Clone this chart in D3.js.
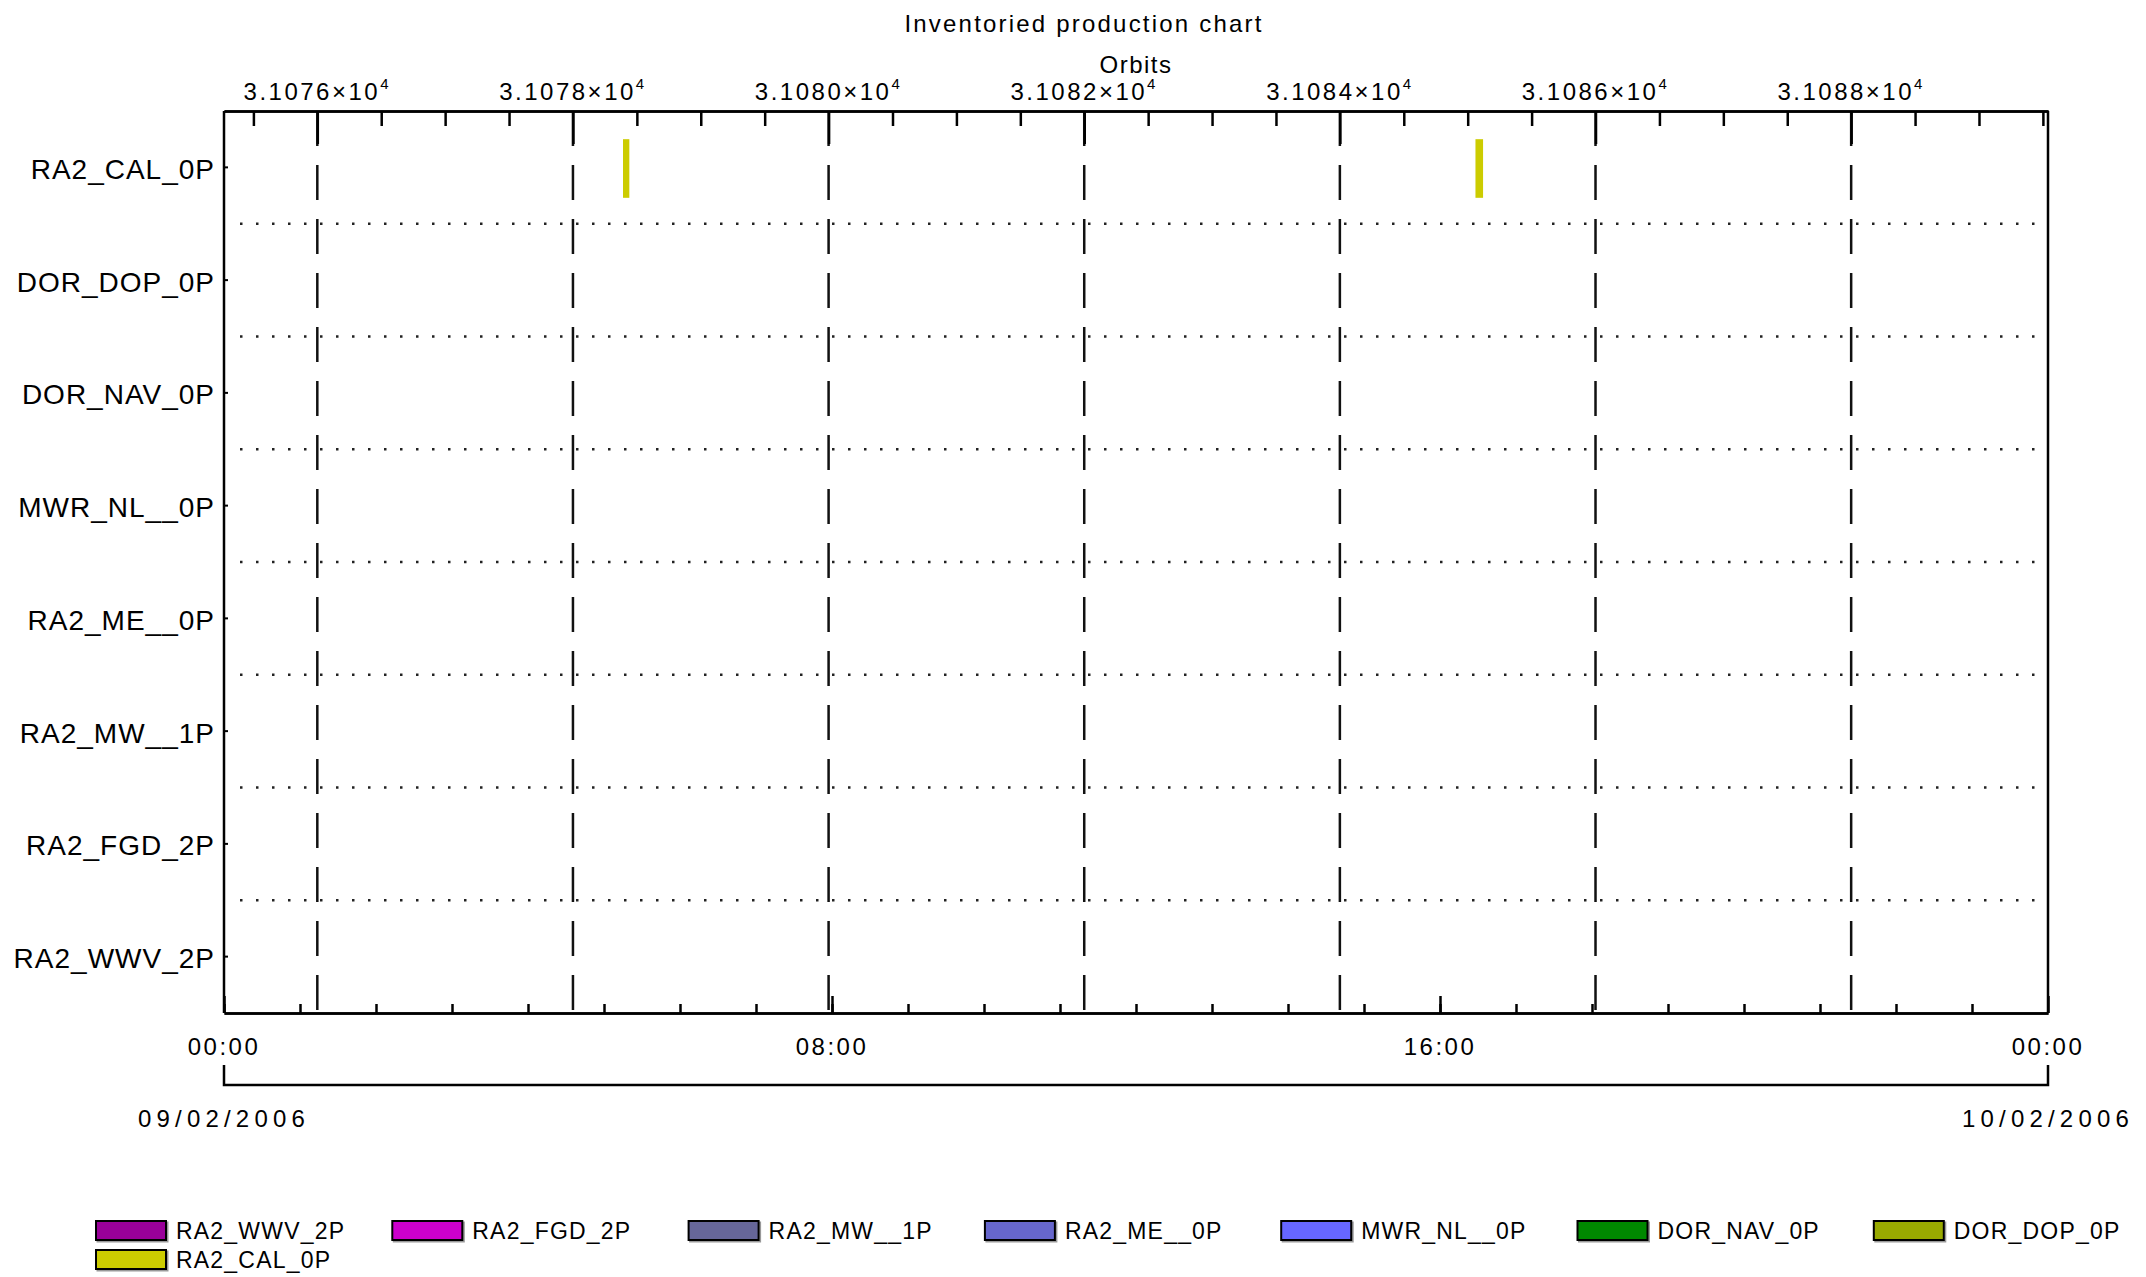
<!DOCTYPE html>
<html><head><meta charset="utf-8">
<script src="https://cdn.jsdelivr.net/npm/d3@7"></script>
<style>
body{margin:0;background:#fff}
svg{display:block;background:#fff}
text{font-family:"Liberation Sans",Arial,sans-serif;fill:#000}
</style>
</head><body>
<svg id="chart" width="2146" height="1277"></svg>
<script>
// ---------------- data ----------------
const categories = ["RA2_CAL_0P","DOR_DOP_0P","DOR_NAV_0P","MWR_NL__0P","RA2_ME__0P","RA2_MW__1P","RA2_FGD_2P","RA2_WWV_2P"];
const legendProducts = ["RA2_WWV_2P","RA2_FGD_2P","RA2_MW__1P","RA2_ME__0P","MWR_NL__0P","DOR_NAV_0P","DOR_DOP_0P","RA2_CAL_0P"];
const legendColors = ["#990099","#cc00cc","#666699","#6666cc","#6666ff","#008800","#99aa00","#cccc00"];
const productNames = ["RA2_CAL_0P","RA2_CAL_0P"];
const productStarts = ["2006-02-09T05:15:00Z","2006-02-09T16:28:00Z"];
const productEnds = ["2006-02-09T05:20:00Z","2006-02-09T16:34:00Z"];
const timeDomain = ["2006-02-09T00:00:00Z","2006-02-10T00:00:00Z"];
const timeLabelTicks = ["2006-02-09T00:00:00Z","2006-02-09T08:00:00Z","2006-02-09T16:00:00Z","2006-02-10T00:00:00Z"];
const timeTickLabels = ["00:00","08:00","16:00","00:00"];
const dateLabels = ["09/02/2006","10/02/2006"];
const orbitDomain = [31075.27, 31089.54];
const orbitMajorTicks = [31076,31078,31080,31082,31084,31086,31088];
const orbitMinorTicks = [31075.5,31076.5,31077,31077.5,31078.5,31079,31079.5,31080.5,31081,31081.5,31082.5,31083,31083.5,31084.5,31085,31085.5,31086.5,31087,31087.5,31088.5,31089,31089.5];
const titleText = "Inventoried production chart";
const orbitAxisTitle = "Orbits";

// ---------------- layout ----------------
const L = 224, R = 2048, T = 111, B = 1013;
const svg = d3.select("#chart");

const x = d3.scaleUtc().domain(timeDomain.map(d => new Date(d))).range([L, R]);
const xo = d3.scaleLinear().domain(orbitDomain).range([L, R]);
const y = d3.scaleBand().domain(categories).range([T, B]);
const bw = y.bandwidth();

// title
svg.append("text").attr("x", 1084).attr("y", 23).attr("text-anchor","middle")
  .attr("dominant-baseline","central").style("font-size","24px").style("letter-spacing","2.2px")
  .text(titleText);
svg.append("text").attr("x", 1136).attr("y", 64).attr("text-anchor","middle")
  .attr("dominant-baseline","central").style("font-size","24px").style("letter-spacing","1.5px")
  .text(orbitAxisTitle);

// dotted separators between rows
const seps = categories.slice(1).map(c => y(c));
svg.append("g").selectAll("line").data(seps).join("line")
  .attr("x1", 240).attr("x2", 2042).attr("y1", d => d).attr("y2", d => d)
  .attr("stroke", "#222").attr("stroke-width", 2.5).attr("stroke-dasharray", "2.5,13.5");

// dashed vertical orbit lines
svg.append("g").selectAll("line").data(orbitMajorTicks).join("line")
  .attr("x1", d => xo(d)).attr("x2", d => xo(d)).attr("y1", T).attr("y2", B)
  .attr("stroke", "#111").attr("stroke-width", 2.5).attr("stroke-dasharray", "35,19");

// bars
const bars = productNames.map((p, i) => ({p, s: new Date(productStarts[i]), e: new Date(productEnds[i])}));
svg.append("g").selectAll("rect").data(bars).join("rect")
  .attr("x", d => x(d.s)).attr("width", d => Math.max(5, x(d.e) - x(d.s)))
  .attr("y", d => y(d.p) + bw * 0.25).attr("height", bw * 0.52)
  .attr("fill", legendColors[legendProducts.indexOf("RA2_CAL_0P")]);

// frame: left and right axis lines
svg.append("line").attr("x1", L).attr("x2", L).attr("y1", T).attr("y2", B).attr("stroke","#000").attr("stroke-width",2.5);
svg.append("line").attr("x1", R).attr("x2", R).attr("y1", T).attr("y2", B).attr("stroke","#000").attr("stroke-width",2.5);

// top orbit axis
const topMinor = svg.append("g").attr("transform", `translate(0,${T})`)
  .call(d3.axisTop(xo).tickValues(orbitMinorTicks).tickSize(-15).tickSizeOuter(0).tickFormat(""));
const topMajor = svg.append("g").attr("transform", `translate(0,${T})`)
  .call(d3.axisTop(xo).tickValues(orbitMajorTicks).tickSize(-33).tickSizeOuter(0).tickFormat(""));
[topMinor, topMajor].forEach(g => {
  g.selectAll("path.domain").attr("stroke","#000").attr("stroke-width",2.5);
  g.selectAll(".tick line").attr("stroke","#000").attr("stroke-width",2.5);
});
const olab = svg.append("g").selectAll("text").data(orbitMajorTicks).join("text")
  .attr("x", d => xo(d)).attr("y", 91).attr("text-anchor","middle").attr("dominant-baseline","central")
  .style("font-size","24px").style("letter-spacing","2.5px");
olab.append("tspan").text(d => (d / 1e4).toFixed(4) + "×10");
olab.append("tspan").attr("dy", -8).style("font-size","15px").text("4");

// bottom time axis
const hourTicks = d3.utcHour.range(new Date(timeDomain[0]), new Date(timeDomain[1]));
const bMinor = svg.append("g").attr("transform", `translate(0,${B})`)
  .call(d3.axisBottom(x).tickValues(hourTicks).tickSize(-9).tickSizeOuter(0).tickFormat(""));
const bMajor = svg.append("g").attr("transform", `translate(0,${B})`)
  .call(d3.axisBottom(x).tickValues(timeLabelTicks.map(d => new Date(d))).tickSize(-17).tickSizeOuter(0).tickFormat(""));
[bMinor, bMajor].forEach(g => {
  g.selectAll("path.domain").attr("stroke","#000").attr("stroke-width",2.5);
  g.selectAll(".tick line").attr("stroke","#000").attr("stroke-width",2.5);
});
svg.append("g").selectAll("text").data(timeLabelTicks).join("text")
  .attr("x", d => x(new Date(d))).attr("y", 1046).attr("text-anchor","middle").attr("dominant-baseline","central")
  .style("font-size","24px").style("letter-spacing","2.5px")
  .text((d, i) => timeTickLabels[i]);

// date bracket
svg.append("path")
  .attr("d", `M${x(new Date(timeDomain[0]))},1065V1085H${x(new Date(timeDomain[1]))}V1065`)
  .attr("fill","none").attr("stroke","#000").attr("stroke-width",2.5);
svg.append("g").selectAll("text").data(dateLabels).join("text")
  .attr("x", (d, i) => x(new Date(timeDomain[i]))).attr("y", 1118).attr("text-anchor","middle")
  .attr("dominant-baseline","central").style("font-size","24px").style("letter-spacing","5.2px")
  .text(d => d);

// left category axis
const yl = svg.append("g").attr("transform", `translate(${L},0)`)
  .call(d3.axisRight(y).tickSize(4).tickSizeOuter(0).tickFormat(""));
yl.select("path.domain").remove();
yl.selectAll(".tick line").attr("stroke","#000").attr("stroke-width",2);
svg.append("g").selectAll("text").data(categories).join("text")
  .attr("x", 215).attr("y", d => y(d) + bw / 2 + 2).attr("text-anchor","end").attr("dominant-baseline","central")
  .style("font-size","28px").style("letter-spacing","1px")
  .text(d => d);

// legend
const perRow = 7;
const lg = svg.append("g").selectAll("g").data(legendProducts).join("g")
  .attr("transform", (d, i) => `translate(${96 + (i % perRow) * 296.3},${1221 + Math.floor(i / perRow) * 29})`);
lg.append("rect").attr("x", 1.5).attr("y", 1.5).attr("width", 70).attr("height", 19).attr("fill", "none")
  .attr("stroke", "#999").attr("stroke-width", 2);
lg.append("rect").attr("width", 70).attr("height", 19).attr("fill", (d, i) => legendColors[i])
  .attr("stroke", "#000").attr("stroke-width", 2);
lg.append("text").attr("x", 80).attr("y", 10).attr("dominant-baseline","central")
  .style("font-size","23px").style("letter-spacing","1.2px").text(d => d);
</script>
</body></html>
